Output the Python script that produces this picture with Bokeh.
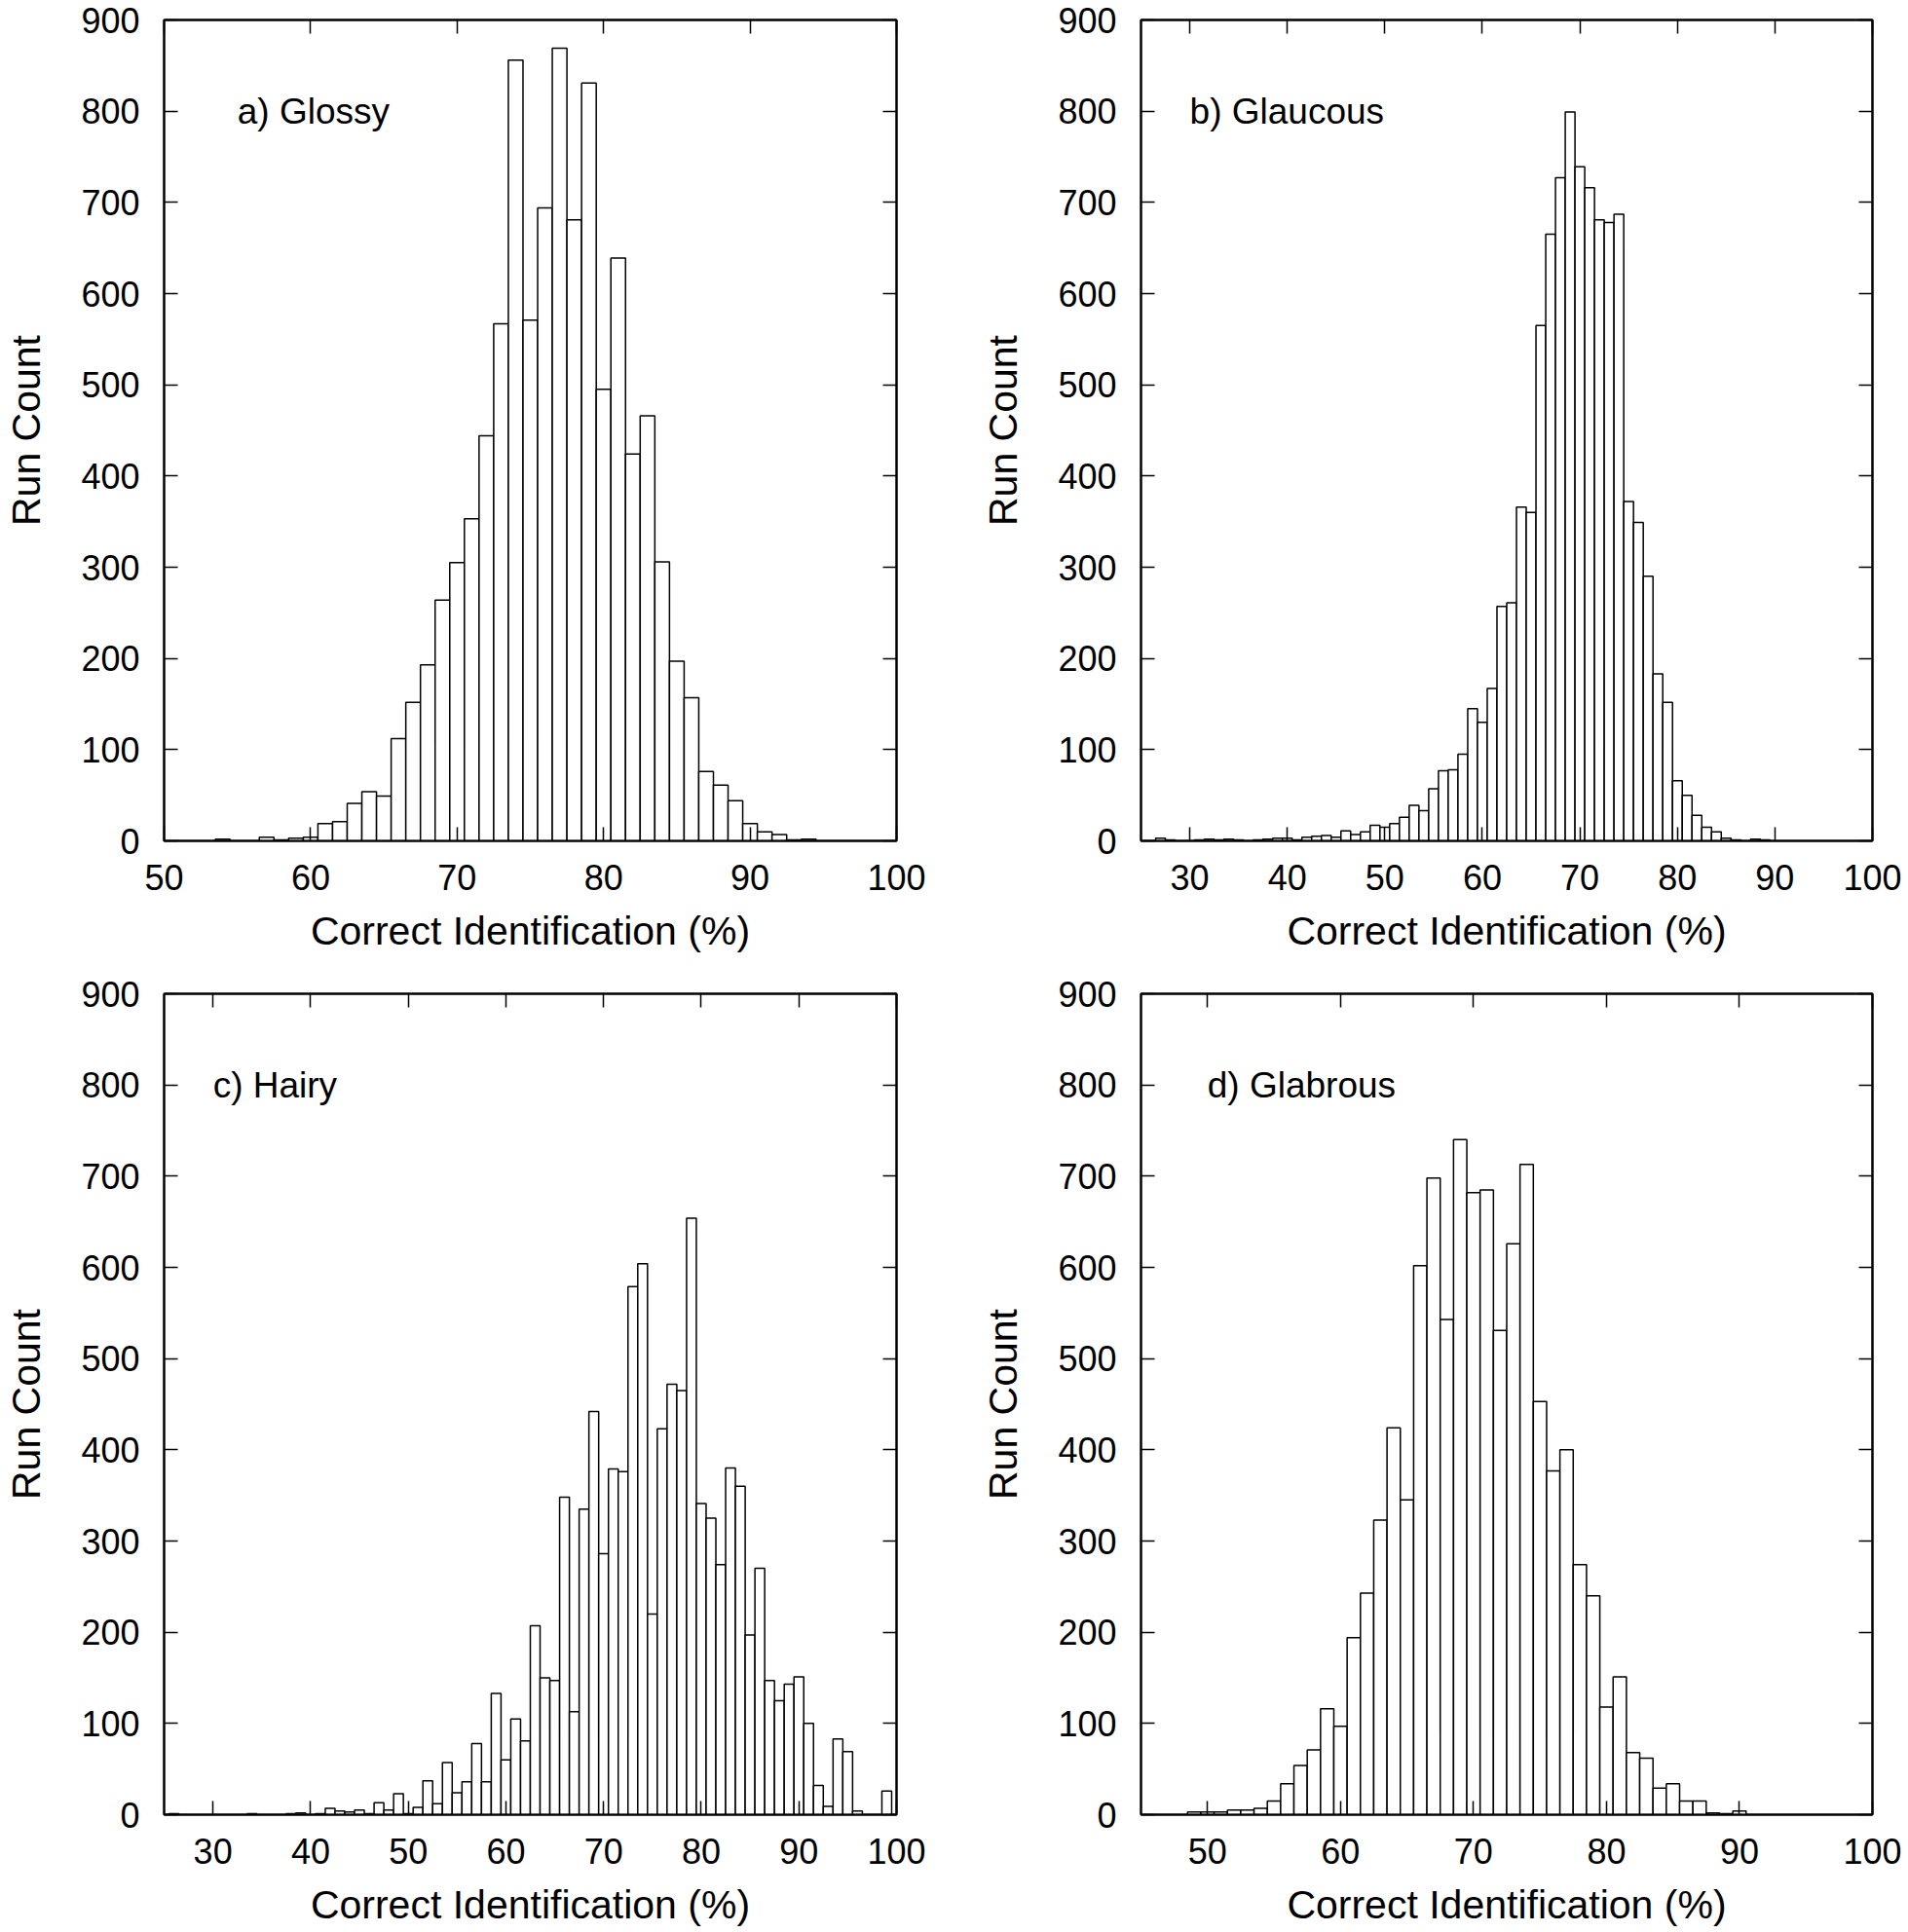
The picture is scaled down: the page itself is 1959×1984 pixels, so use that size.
from bokeh.plotting import figure
from bokeh.models import FixedTicker, LinearAxis, Range1d, Label, ColumnDataSource
from bokeh.layouts import gridplot
from bokeh.embed import file_html
from bokeh.resources import INLINE

FONT = "Liberation Sans"

# ---- data (bin centre in % correct, run count) ----
glossy_pct = [54, 57, 58, 59, 60, 61, 62, 63, 64, 65, 66, 67, 68, 69, 70, 71, 72, 73, 74, 75,
              76, 77, 78, 79, 80, 81, 82, 83, 84, 85, 86, 87, 88, 89, 90, 91, 92, 93, 94]
glossy_runs = [2, 4, 1, 3, 4, 19, 21, 41, 54, 49, 112, 152, 193, 264, 305, 353, 444, 567, 856, 571,
               694, 869, 681, 831, 495, 639, 424, 466, 306, 197, 157, 76, 61, 44, 19, 10, 7, 1, 2]

glaucous_pct = [27, 28, 31, 32, 33, 34, 35, 37, 38, 39, 40, 41, 42, 43, 44, 45, 46, 47, 48, 49,
                50, 51, 52, 53, 54, 55, 56, 57, 58, 59, 60, 61, 62, 63, 64, 65, 66, 67, 68, 69,
                70, 71, 72, 73, 74, 75, 76, 77, 78, 79, 80, 81, 82, 83, 84, 85, 86, 88, 89]
glaucous_runs = [3, 1, 1, 2, 1, 2, 1, 1, 2, 3, 3, 1, 4, 5, 6, 4, 11, 7, 10, 17,
                 15, 19, 26, 39, 33, 57, 77, 78, 95, 145, 130, 167, 257, 261, 366, 360, 565, 665, 727, 799,
                 739, 716, 681, 678, 687, 372, 349, 290, 183, 152, 66, 50, 28, 15, 10, 3, 1, 2, 1]

hairy_pct = [26, 34, 38, 39, 41, 42, 43, 44, 45, 46, 47, 48, 49, 50, 51, 52, 53, 54, 55, 56,
             57, 58, 59, 60, 61, 62, 63, 64, 65, 66, 67, 68, 69, 70, 71, 72, 73, 74, 75, 76,
             77, 78, 79, 80, 81, 82, 83, 84, 85, 86, 87, 88, 89, 90, 91, 92, 93, 94, 95, 96, 99]
hairy_runs = [1, 1, 1, 2, 1, 7, 4, 3, 5, 1, 13, 5, 23, 1, 8, 37, 12, 57, 24, 36,
              78, 36, 133, 60, 105, 81, 207, 150, 147, 348, 113, 335, 442, 286, 379, 376, 579, 604, 220, 423,
              472, 465, 654, 341, 325, 274, 380, 360, 197, 270, 147, 125, 143, 151, 100, 32, 9, 83, 69, 4, 26]

glabrous_pct = [49, 50, 51, 52, 53, 54, 55, 56, 57, 58, 59, 60, 61, 62, 63, 64, 65, 66, 67, 68,
                69, 70, 71, 72, 73, 74, 75, 76, 77, 78, 79, 80, 81, 82, 83, 84, 85, 86, 87, 88, 89, 90]
glabrous_runs = [3, 3, 3, 5, 5, 7, 15, 34, 54, 71, 116, 97, 194, 243, 323, 424, 345, 602, 698, 543,
                 740, 682, 685, 531, 626, 713, 453, 377, 400, 274, 240, 118, 151, 68, 62, 29, 34, 15, 15, 2, 1, 4]

y_ticks = [0, 100, 200, 300, 400, 500, 600, 700, 800, 900]
x_ticks_a = [50, 60, 70, 80, 90, 100]
x_ticks_b = [30, 40, 50, 60, 70, 80, 90, 100]
x_ticks_c = [30, 40, 50, 60, 70, 80, 90, 100]
x_ticks_d = [50, 60, 70, 80, 90, 100]

panel_labels = ["a) Glossy", "b) Glaucous", "c) Hairy", "d) Glabrous"]
x_starts = [50, 25, 25, 45]


def style_axis(ax, show_labels=True):
    ax.major_tick_in = 14
    ax.major_tick_out = 0
    ax.minor_tick_in = 0
    ax.minor_tick_out = 0
    ax.major_tick_line_width = 1.5
    ax.major_tick_line_color = "black"
    ax.axis_line_width = 2
    ax.axis_line_color = "black"
    if show_labels:
        ax.major_label_text_font = FONT
        ax.major_label_text_font_size = "36px"
        ax.major_label_text_color = "black"
        ax.axis_label_text_font = FONT
        ax.axis_label_text_font_size = "41px"
        ax.axis_label_text_font_style = "normal"
        ax.axis_label_text_color = "black"
    else:
        ax.major_label_text_font_size = "1px"
        ax.major_label_text_color = None
        ax.major_label_standoff = 0


def make_panel(pct, runs, x_start, x_ticks, label, label_x,
               b_left, f_w, b_right, b_top, f_h, b_bottom):
    p = figure(width=b_left + f_w + b_right, height=b_top + f_h + b_bottom,
               x_range=Range1d(x_start, 100), y_range=Range1d(0, 900),
               output_backend="svg", toolbar_location=None,
               min_border_left=b_left, min_border_right=b_right,
               min_border_top=b_top, min_border_bottom=b_bottom,
               x_axis_label="Correct Identification (%)", y_axis_label="Run Count")
    src = ColumnDataSource(dict(pct=pct, runs=runs))
    p.vbar(x="pct", width=1, top="runs", bottom=0, source=src,
           fill_color="white", line_color="black", line_width=1.5)
    p.xgrid.visible = False
    p.ygrid.visible = False
    p.outline_line_color = "black"
    p.outline_line_width = 2
    p.background_fill_color = "white"
    p.border_fill_color = "white"

    p.xaxis.ticker = FixedTicker(ticks=x_ticks)
    p.yaxis.ticker = FixedTicker(ticks=y_ticks)
    for ax in p.xaxis:
        style_axis(ax)
        ax.major_label_standoff = 24
        ax.axis_label_standoff = 16
    for ax in p.yaxis:
        style_axis(ax)
        ax.major_label_standoff = 25
        ax.axis_label_standoff = 30

    top_ax = LinearAxis(ticker=FixedTicker(ticks=x_ticks))
    style_axis(top_ax, show_labels=False)
    p.add_layout(top_ax, "above")
    right_ax = LinearAxis(ticker=FixedTicker(ticks=y_ticks))
    style_axis(right_ax, show_labels=False)
    p.add_layout(right_ax, "right")

    p.add_layout(Label(x=label_x, y=800, text=label, text_font=FONT,
                       text_font_size="37px", text_color="black",
                       text_align="left", text_baseline="middle"))
    return p


pa = make_panel(glossy_pct, glossy_runs, x_starts[0], x_ticks_a, panel_labels[0], 55,
                168, 752, 83, 20, 843, 137)
pb = make_panel(glaucous_pct, glaucous_runs, x_starts[1], x_ticks_b, panel_labels[1], 30,
                168, 751, 36, 20, 843, 137)
pc = make_panel(hairy_pct, hairy_runs, x_starts[2], x_ticks_c, panel_labels[2], 30,
                168, 752, 83, 20, 843, 120)
pd = make_panel(glabrous_pct, glabrous_runs, x_starts[3], x_ticks_d, panel_labels[3], 50,
                168, 751, 36, 20, 843, 120)

grid = gridplot([[pa, pb], [pc, pd]], toolbar_location=None)

open("out.html", "w").write(file_html(grid, INLINE))
